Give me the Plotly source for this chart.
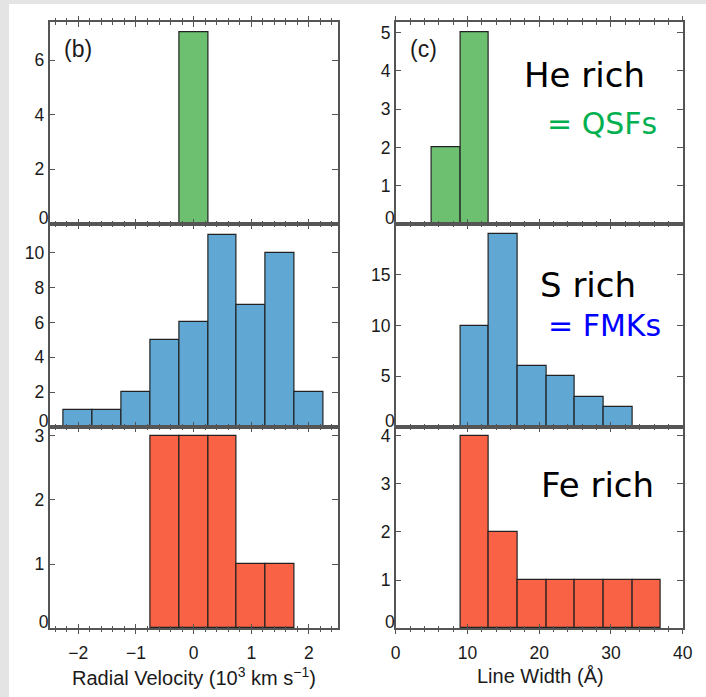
import plotly.graph_objects as go

# ---------------- data ----------------
rv_centers = [-2.0, -1.5, -1.0, -0.5, 0.0, 0.5, 1.0, 1.5, 2.0]
rv_he = [0, 0, 0, 0, 7, 0, 0, 0, 0]
rv_s = [1, 1, 2, 5, 6, 11, 7, 10, 2]
rv_fe = [0, 0, 0, 3, 3, 3, 1, 1, 0]

lw_centers = [7, 11, 15, 19, 23, 27, 31, 35]
lw_he = [2, 5, 0, 0, 0, 0, 0, 0]
lw_s = [0, 10, 19, 6, 5, 3, 2, 0]
lw_fe = [0, 4, 2, 1, 1, 1, 1, 1]

rv_bin_width = 0.5
lw_bin_width = 4

rv_xticks = [-2, -1, 0, 1, 2]
lw_xticks = [0, 10, 20, 30, 40]
rv_yticks = [[0, 2, 4, 6], [0, 2, 4, 6, 8, 10], [0, 1, 2, 3]]
lw_yticks = [[0, 1, 2, 3, 4, 5], [0, 5, 10, 15], [0, 1, 2, 3, 4]]
rv_yranges = [[0, 7.38], [0, 11.65], [0, 3.135]]
lw_yranges = [[0, 5.27], [0, 20.0], [0, 4.18]]

colors = {"he": "#6cc070", "s": "#61a7d4", "fe": "#f96245"}

W, H = 706, 697
FONT = "Liberation Sans, Arial, sans-serif"
AXC = "#555555"
TXT = "#1a1a1a"


def fmt(v):
    return ("−" + str(-v)) if v < 0 else str(v)


fig = go.Figure()

series = [
    (rv_centers, rv_he, rv_bin_width, "he"),
    (lw_centers, lw_he, lw_bin_width, "he"),
    (rv_centers, rv_s, rv_bin_width, "s"),
    (lw_centers, lw_s, lw_bin_width, "s"),
    (rv_centers, rv_fe, rv_bin_width, "fe"),
    (lw_centers, lw_fe, lw_bin_width, "fe"),
]
for i, (xc, yv, w, key) in enumerate(series, start=1):
    sfx = "" if i == 1 else str(i)
    fig.add_trace(go.Bar(
        x=xc, y=[v if v > 0 else None for v in yv], width=w,
        marker=dict(color=colors[key], line=dict(color="#222222", width=1.2)),
        xaxis="x" + sfx, yaxis="y" + sfx, showlegend=False,
    ))

xdom_left = [49.5 / W, 337.7 / W]
xdom_right = [395.7 / W, 682.7 / W]
row_px = [(22.3, 224.0), (224.0, 427.0), (427.0, 628.3)]
ydoms = [[1 - b / H, 1 - t / H] for (t, b) in row_px]

layout = dict(
    width=W, height=H,
    margin=dict(l=0, r=0, t=0, b=0),
    paper_bgcolor="#e4e4e4",
    plot_bgcolor="white",
    bargap=0,
    font=dict(family=FONT, size=17, color=TXT),
    template="none",
)

for r in range(3):
    for c in range(2):
        i = r * 2 + c + 1
        sfx = "" if i == 1 else str(i)
        left = c == 0
        bottom = r == 2
        xt = rv_xticks if left else lw_xticks
        yt = (rv_yticks if left else lw_yticks)[r]
        yr = (rv_yranges if left else lw_yranges)[r]
        layout["xaxis" + sfx] = dict(
            domain=xdom_left if left else xdom_right,
            anchor="y" + sfx,
            range=[-2.5, 2.5] if left else [0, 40],
            tickmode="array", tickvals=xt, ticktext=[fmt(v) for v in xt],
            ticks="inside", ticklen=5, tickwidth=1.3, tickcolor=AXC,
            minor=dict(tickmode="linear", tick0=0, dtick=0.2 if left else 2,
                       ticks="inside", ticklen=3, tickwidth=1.2, tickcolor=AXC),
            showline=True, linecolor=AXC, linewidth=1.5, mirror="ticks",
            showgrid=False, zeroline=False,
            showticklabels=bottom, ticklabelstandoff=8,
            tickfont=dict(size=17.5),
            automargin=False, fixedrange=True,
        )
        layout["yaxis" + sfx] = dict(
            domain=ydoms[r],
            anchor="x" + sfx,
            range=yr,
            tickmode="array", tickvals=yt,
            ticktext=["" if v == 0 else fmt(v) for v in yt],
            ticks="inside", ticklen=6, tickwidth=1.3, tickcolor=AXC,
            showline=True, linecolor=AXC, linewidth=1.5, mirror="ticks",
            showgrid=False, zeroline=False,
            tickfont=dict(size=17.5),
            ticklabelstandoff=0,
            automargin=False, fixedrange=True,
        )
        # "0" label sitting just above the axis line (as in the reference)
        layout["yaxis" + str(10 + i)] = dict(
            overlaying="y" + sfx, anchor="x" + sfx, side="left",
            range=yr, tickmode="array", tickvals=[0], ticktext=["0"],
            ticks="", showline=False, showgrid=False, zeroline=False,
            tickfont=dict(size=17.5), ticklabelstandoff=0, ticklabelshift=-6,
            automargin=False, fixedrange=True,
        )
        fig.add_trace(go.Scatter(x=[], y=[], xaxis="x" + sfx, yaxis="y" + str(10 + i),
                                 showlegend=False, hoverinfo="skip"))

# outward halves of the crossing ticks on top of top panels and bottom of bottom panels
extra = [("7", "x", "y", "top", True), ("8", "x2", "y2", "top", False),
         ("9", "x5", "y5", "bottom", True), ("10", "x6", "y6", "bottom", False)]
for n, ov, anc, side, left in extra:
    layout["xaxis" + n] = dict(
        overlaying=ov, anchor=anc, side=side,
        range=[-2.5, 2.5] if left else [0, 40],
        tickmode="linear", tick0=0, dtick=1 if left else 10,
        ticks="outside", ticklen=5, tickwidth=1.3, tickcolor=AXC,
        minor=dict(tickmode="linear", tick0=0, dtick=0.2 if left else 2,
                   ticks="outside", ticklen=3, tickwidth=1.2, tickcolor=AXC),
        showline=False, showgrid=False, zeroline=False, showticklabels=False,
        automargin=False, fixedrange=True,
    )
    fig.add_trace(go.Scatter(x=[], y=[], xaxis="x" + n, yaxis=anc,
                             showlegend=False, hoverinfo="skip"))

fig.update_layout(**layout)

# white slide area
fig.add_shape(type="rect", xref="paper", yref="paper",
              x0=9 / W, x1=1.01, y0=-0.01, y1=1 - 4 / H,
              fillcolor="white", line=dict(width=0), layer="below")

BIG = "DejaVu Sans, Verdana, sans-serif"
ann = [
    dict(text="(b)", x=62 / W, y=1 - 49 / H, xanchor="left", font=dict(size=23, family=FONT, color=TXT)),
    dict(text="(c)", x=408 / W, y=1 - 49 / H, xanchor="left", font=dict(size=23, family=FONT, color=TXT)),
    dict(text="He rich", x=584 / W, y=1 - 75 / H, font=dict(size=34, family=BIG, color="black")),
    dict(text="= QSFs", x=602 / W, y=1 - 123 / H, font=dict(size=30, family=BIG, color="#00b050")),
    dict(text="S rich", x=588 / W, y=1 - 285 / H, font=dict(size=34, family=BIG, color="black")),
    dict(text="= FMKs", x=604 / W, y=1 - 325 / H, font=dict(size=30, family=BIG, color="#0000ff")),
    dict(text="Fe rich", x=597 / W, y=1 - 485 / H, font=dict(size=34, family=BIG, color="black")),
    dict(text="Radial Velocity (10<sup>3</sup> km s<sup>−1</sup>)", x=193.5 / W, y=1 - 676 / H,
         font=dict(size=20, family=FONT, color=TXT)),
    dict(text="Line Width (Å)", x=540 / W, y=1 - 676 / H,
         font=dict(size=20, family=FONT, color=TXT)),
]
for a in ann:
    a.setdefault("xanchor", "center")
    a.update(xref="paper", yref="paper", showarrow=False, yanchor="middle")
fig.update_layout(annotations=ann)

fig.write_html("out.html", config={"displayModeBar": False},
               post_script="document.body.style.margin='0';")
